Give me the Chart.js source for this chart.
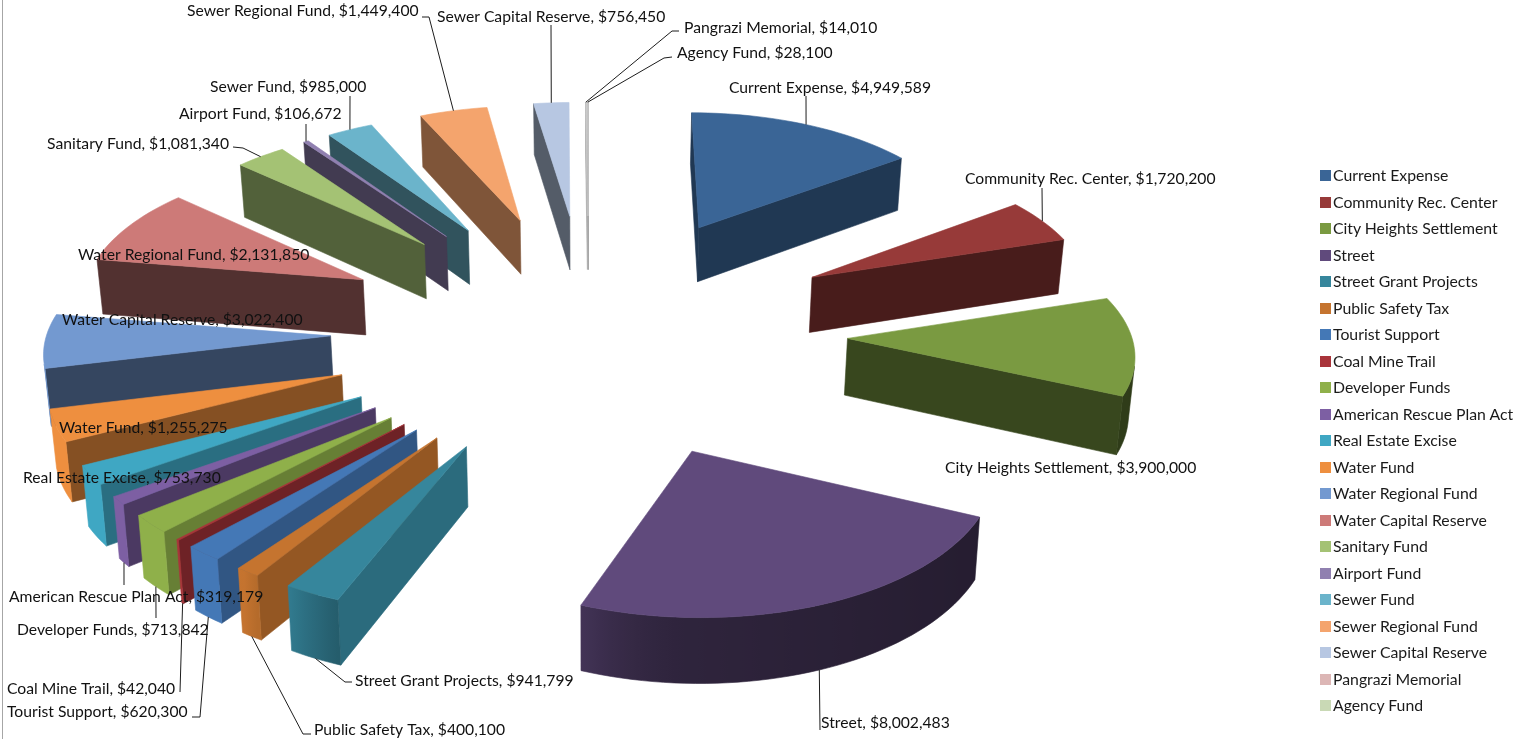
<!DOCTYPE html>
<html>
<head>
<meta charset="utf-8">
<title>Fund budget</title>
<script src="https://cdn.jsdelivr.net/npm/chart.js@4"></script>
<style>
  html, body { margin: 0; padding: 0; background: #fff; }
  #wrap { position: relative; width: 1516px; height: 739px; overflow: hidden; }
  #frame { position: absolute; left: 2px; top: 0; width: 1px; height: 739px; background: #a6a6a6; }
  #legend { position: absolute; left: 1320px; top: 162px; margin: 0; padding: 0; list-style: none;
            font: 15.8px Lato, sans-serif; color: #1a1a1a; }
  #legend li { height: 26.5px; line-height: 26.5px; white-space: nowrap; }
  #legend i { display: inline-block; width: 11px; height: 11px; margin-right: 2px; }
</style>
</head>
<body>
<div id="wrap">
  <canvas id="chart" width="1516" height="739"></canvas>
  <div id="frame"></div>
  <ul id="legend"></ul>
</div>
<script>
const funds = [
  "Current Expense", "Community Rec. Center", "City Heights Settlement", "Street",
  "Street Grant Projects", "Public Safety Tax", "Tourist Support", "Coal Mine Trail",
  "Developer Funds", "American Rescue Plan Act", "Real Estate Excise", "Water Fund",
  "Water Regional Fund", "Water Capital Reserve", "Sanitary Fund", "Airport Fund",
  "Sewer Fund", "Sewer Regional Fund", "Sewer Capital Reserve", "Pangrazi Memorial", "Agency Fund"
];
const amounts = [
  4949589, 1720200, 3900000, 8002483,
  941799, 400100, 620300, 42040,
  713842, 319179, 753730, 1255275,
  2131850, 3022400, 1081340, 106672,
  985000, 1449400, 756450, 14010, 28100
];
const sliceColors = [
  "#3a6596", "#973a39", "#7a9a41", "#604a7c",
  "#36869c", "#c5742f", "#4478b6", "#a9343a",
  "#8fb04a", "#7d5fa3", "#3fa7c3", "#ee8f3f",
  "#7399d0", "#cd7a78", "#a4c274", "#9080b0",
  "#6bb4cb", "#f4a46d", "#b7c7e2", "#dcb6b5", "#c9d9b5"
];
// how dark the straight cut face of each slice is against its top
const cutShade = [
  .55, .48, .46, .5,
  .8, .75, .72, .65,
  .72, .6, .66, .56,
  .46, .4, .5, .46,
  .46, .52, .46, .6, .6
];

// data label placement; the wedge labels are dragged around by hand
const labelLeft = [729, 965, 945, 821, 355, 314, 7, 7, 17, 9, 23, 59, 78, 62, 47, 179, 210, 187, 437, 684, 677];
const labelMid = [88, 179, 468, 723, 681, 730, 712, 689, 630, 597, 478, 428, 255, 320, 144, 114, 87, 11, 17, 28, 53];

// leader line bend points, the last leg runs to the rim of the wedge
const leaderBends = [
  [[806, 96]], [[1042, 188]], null, [[820, 730]],
  [[352, 682], [345, 682]], [[311, 734], [303, 734]], [[192, 717], [200, 717]], [[180, 692]],
  [[156, 618]], [[124, 585]], null, null,
  null, null, [[233, 147], [243, 148]], [[306, 124]],
  [[350, 96]], [[422, 17], [429, 17]], [[551, 25]], [[679, 31], [672, 31]], [[672, 57], [664, 58]]
];
// leaders that land on the bottom rim instead of the top one
const leaderLow = [3, 4, 5, 6, 7, 8, 9];

// camera used to lay the flat pie over in perspective
const tiltX = 1.246, tiltY = 0.585, perspX = 0.074, perspNear = 0.078, perspFar = 0.058;
const thickness = 0.248, converge = 0.988;
// wedges this narrow only show as a grey edge
const sliverAngle = 0.006, sliverTop = "#c6c6c6", sliverCut = "#a2a2a2";

function shade(hex, k) {
  const n = parseInt(hex.slice(1), 16);
  const c = [n >> 16, (n >> 8) & 255, n & 255].map(v => Math.round(Math.min(255, v * k)));
  return `rgb(${c[0]},${c[1]},${c[2]})`;
}

// plane position in radii -> screen, low = on the underside of the slab
function project(arc, u, v, low) {
  const R = arc.outerRadius;
  const wx = 1 - perspX * v, wy = 1 - (v < 0 ? perspFar : perspNear) * v;
  let x = tiltX * u / wx, y = tiltY * v / wy;
  if (low) {
    x *= converge;
    y += thickness / wy;
  }
  return [arc.x + x * R, arc.y + y * R];
}

function wedge(arc) {
  const mid = (arc.startAngle + arc.endAngle) / 2;
  const e = arc.options.offset / arc.outerRadius;
  const ou = Math.cos(mid) * e, ov = Math.sin(mid) * e;
  const steps = Math.max(2, Math.ceil((arc.endAngle - arc.startAngle) * 30));
  const rim = [];
  for (let i = 0; i <= steps; i++) {
    const a = arc.startAngle + (arc.endAngle - arc.startAngle) * i / steps;
    rim.push({ u: ou + Math.cos(a), v: ov + Math.sin(a), nx: Math.cos(a) });
  }
  return { ou, ov, mid, rim };
}

function fillPoly(ctx, pts, color) {
  ctx.beginPath();
  pts.forEach((p, i) => (i ? ctx.lineTo(p[0], p[1]) : ctx.moveTo(p[0], p[1])));
  ctx.closePath();
  ctx.fillStyle = color;
  ctx.strokeStyle = color;
  ctx.lineWidth = 0.6;
  ctx.fill();
  ctx.stroke();
}

function signedArea(pts) {
  let s = 0;
  pts.forEach((p, i) => {
    const q = pts[(i + 1) % pts.length];
    s += p[0] * q[1] - q[0] * p[1];
  });
  return s;
}

function wallQuad(arc, a, b) {
  return [
    project(arc, a.u, a.v, false), project(arc, a.u, a.v, true),
    project(arc, b.u, b.v, true), project(arc, b.u, b.v, false)
  ];
}

function drawCut(ctx, arc, a, b, color) {
  const quad = wallQuad(arc, a, b);
  if (signedArea(quad) > 0) fillPoly(ctx, quad, color);
}

function rimShade(nx) {
  return nx < 0 ? Math.min(1, .48 + 1.6 * nx * nx) : .48 - .1 * nx;
}

// curved outer wall: one polygon per visible run, shaded across with a gradient
function drawRim(ctx, arc, rim, color) {
  let run = [];
  const flush = () => {
    if (!run.length) return;
    const upper = run.map(p => project(arc, p.u, p.v, false));
    const lower = run.map(p => project(arc, p.u, p.v, true));
    const x0 = upper[0][0], x1 = upper[upper.length - 1][0];
    let paint = shade(color, rimShade(run[0].nx));
    if (Math.abs(x1 - x0) > 0.5) {
      paint = ctx.createLinearGradient(x0, 0, x1, 0);
      run.forEach((p, i) => {
        const t = (upper[i][0] - x0) / (x1 - x0);
        paint.addColorStop(Math.min(1, Math.max(0, t)), shade(color, rimShade(p.nx)));
      });
    }
    fillPoly(ctx, upper.concat(lower.reverse()), paint);
    run = [];
  };
  for (let s = 0; s < rim.length - 1; s++) {
    if (signedArea(wallQuad(arc, rim[s], rim[s + 1])) > 0) {
      if (!run.length) run.push(rim[s]);
      run.push(rim[s + 1]);
    } else {
      flush();
    }
  }
  flush();
}

const slabPlugin = {
  id: "slab",
  beforeDatasetDraw(chart, args) {
    const ctx = chart.ctx;
    const arcs = chart.getDatasetMeta(args.index).data;
    const order = arcs.map((arc, i) => ({ arc, i, w: wedge(arc) }));
    // far slices first so the nearer ones cover them
    order.sort((p, q) => (p.w.ov + Math.sin(p.w.mid)) - (q.w.ov + Math.sin(q.w.mid)));

    ctx.save();
    order.forEach(({ arc, i, w }) => {
      const sliver = arc.endAngle - arc.startAngle < sliverAngle;
      const tip = { u: w.ou, v: w.ov };
      const cut = sliver ? sliverCut : shade(sliceColors[i], cutShade[i]);
      drawCut(ctx, arc, tip, w.rim[0], cut);
      if (!sliver) drawRim(ctx, arc, w.rim, sliceColors[i]);
      drawCut(ctx, arc, w.rim[w.rim.length - 1], tip, cut);
      const top = [project(arc, tip.u, tip.v, false)];
      w.rim.forEach(p => top.push(project(arc, p.u, p.v, false)));
      fillPoly(ctx, top, sliver ? sliverTop : sliceColors[i]);
    });
    ctx.restore();
    return false;
  },
  afterDatasetsDraw(chart) {
    const ctx = chart.ctx;
    const arcs = chart.getDatasetMeta(0).data;
    ctx.save();
    ctx.strokeStyle = "#1c1c1c";
    ctx.lineWidth = 1;
    arcs.forEach((arc, i) => {
      if (!leaderBends[i]) return;
      const w = wedge(arc);
      const end = project(arc, w.ou + Math.cos(w.mid), w.ov + Math.sin(w.mid), leaderLow.includes(i));
      ctx.beginPath();
      leaderBends[i].forEach((p, k) => (k ? ctx.lineTo(p[0], p[1]) : ctx.moveTo(p[0], p[1])));
      ctx.lineTo(end[0], end[1]);
      ctx.stroke();
    });
    ctx.font = "15.7px Lato, sans-serif";
    ctx.fillStyle = "#111";
    ctx.textBaseline = "middle";
    funds.forEach((name, i) => {
      const text = name + ", $" + amounts[i].toLocaleString("en-US");
      ctx.fillText(text, labelLeft[i], labelMid[i]);
    });
    ctx.restore();
  }
};

const chart = new Chart(document.getElementById("chart"), {
  type: "pie",
  data: {
    labels: funds,
    datasets: [{ data: amounts, backgroundColor: sliceColors, borderWidth: 0, offset: 207 }]
  },
  options: {
    responsive: false,
    animation: false,
    events: [],
    layout: { padding: { right: 338, bottom: 77 } },
    plugins: { legend: { display: false }, tooltip: { enabled: false } }
  },
  plugins: [slabPlugin]
});

const legend = document.getElementById("legend");
chart.data.labels.forEach((name, i) => {
  const li = document.createElement("li");
  const box = document.createElement("i");
  box.style.background = sliceColors[i];
  li.appendChild(box);
  li.appendChild(document.createTextNode(name));
  legend.appendChild(li);
});
</script>
</body>
</html>
